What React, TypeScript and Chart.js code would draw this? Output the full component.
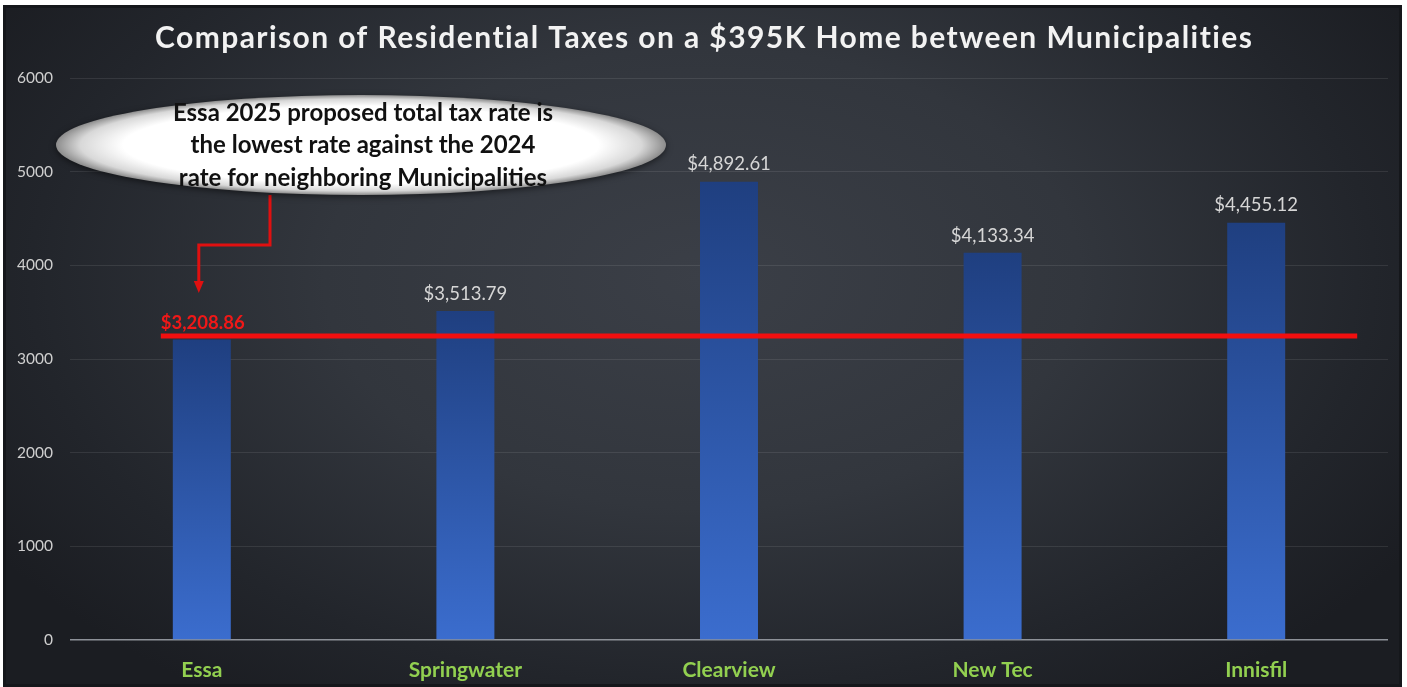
import React, { useEffect, useRef } from "react";
import { Chart, registerables } from "chart.js";

Chart.register(...registerables);

const TITLE = "Comparison of Residential Taxes on a $395K Home between Municipalities";
const CATEGORIES = ["Essa", "Springwater", "Clearview", "New Tec", "Innisfil"];
const TAX_VALUES = [3208.86, 3513.79, 4892.61, 4133.34, 4455.12];
const Y_MIN = 0;
const Y_MAX = 6000;
const Y_STEP = 1000;
// Level at which the red Essa benchmark line is drawn in the picture
const BENCHMARK_LINE_VALUE = 3245;
const BENCHMARK_LABEL = "$3,208.86";
const CALLOUT_LINES = [
  "Essa 2025 proposed total tax rate is",
  "the lowest rate against the 2024",
  "rate for neighboring Municipalities",
];

const FONT = "Lato, 'Open Sans', sans-serif";

const fmt = (v: number) =>
  "$" + v.toLocaleString("en-US", { minimumFractionDigits: 2, maximumFractionDigits: 2 });

const overlayPlugin = {
  id: "overlay",
  afterDatasetsDraw(chart: any) {
    const { ctx, scales } = chart;
    const x = scales.x;
    const y = scales.y;
    const meta = chart.getDatasetMeta(0);
    ctx.save();

    // value labels
    meta.data.forEach((bar: any, i: number) => {
      if (i === 0) return;
      ctx.font = `18.5px ${FONT}`;
      ctx.fillStyle = "#d6d6d6";
      ctx.textAlign = "center";
      ctx.textBaseline = "bottom";
      ctx.fillText(fmt(TAX_VALUES[i]), bar.x, bar.y - 8);
    });

    // red benchmark line
    const ly = y.getPixelForValue(BENCHMARK_LINE_VALUE);
    const x0 = x.getPixelForValue(0) - 41;
    const x1 = x.getPixelForValue(CATEGORIES.length - 1) + 101;
    ctx.strokeStyle = "#f20f0f";
    ctx.lineWidth = 5;
    ctx.beginPath();
    ctx.moveTo(x0, ly);
    ctx.lineTo(x1, ly);
    ctx.stroke();

    ctx.font = `bold 18.5px ${FONT}`;
    ctx.fillStyle = "#f01818";
    ctx.textAlign = "left";
    ctx.textBaseline = "alphabetic";
    ctx.fillText(BENCHMARK_LABEL, x0, ly - 7);

    // arrow from callout
    const ax = x.getPixelForValue(0) - 3;
    ctx.strokeStyle = "#e01010";
    ctx.fillStyle = "#e01010";
    ctx.lineWidth = 3;
    ctx.beginPath();
    ctx.moveTo(267, 190);
    ctx.lineTo(267, 240);
    ctx.lineTo(ax, 240);
    ctx.lineTo(ax, 278);
    ctx.stroke();
    ctx.beginPath();
    ctx.moveTo(ax - 5, 276);
    ctx.lineTo(ax + 5, 276);
    ctx.lineTo(ax, 288);
    ctx.closePath();
    ctx.fill();

    // callout ellipse
    const cx = 358, cy = 140, rx = 305, ry = 50;
    ctx.save();
    ctx.shadowColor = "rgba(0,0,0,0.5)";
    ctx.shadowBlur = 6;
    ctx.shadowOffsetY = 2;
    ctx.translate(cx, cy);
    ctx.scale(rx / ry, 1);
    const g = ctx.createRadialGradient(0, 0, 0, 0, 0, ry);
    g.addColorStop(0, "#ffffff");
    g.addColorStop(0.78, "#ffffff");
    g.addColorStop(0.92, "#d8d8d8");
    g.addColorStop(1, "#8c8c8c");
    ctx.fillStyle = g;
    ctx.beginPath();
    ctx.arc(0, 0, ry, 0, Math.PI * 2);
    ctx.fill();
    ctx.restore();

    ctx.font = `bold 24px ${FONT}`;
    ctx.fillStyle = "#111111";
    ctx.textAlign = "center";
    ctx.textBaseline = "middle";
    CALLOUT_LINES.forEach((t, i) => ctx.fillText(t, 360, 108 + i * 32.5));

    // title
    ctx.font = `bold 30px ${FONT}`;
    ctx.fillStyle = "#f2f2f2";
    ctx.textAlign = "left";
    ctx.textBaseline = "middle";
    (ctx as any).letterSpacing = "0px";
    const target = 1098;
    const w = ctx.measureText(TITLE).width;
    const ls = (target - w) / (TITLE.length - 1);
    (ctx as any).letterSpacing = `${ls}px`;
    ctx.fillText(TITLE, 701 - target / 2, 33);
    (ctx as any).letterSpacing = "0px";

    ctx.restore();
  },
};

export default function App() {
  const ref = useRef<HTMLCanvasElement | null>(null);

  useEffect(() => {
    document.body.style.margin = "0";
    if (!ref.current) return;
    const chart = new Chart(ref.current, {
      type: "bar",
      data: {
        labels: CATEGORIES,
        datasets: [
          {
            data: TAX_VALUES,
            backgroundColor: (c: any) => {
              const ch = c.chart;
              const s = ch.scales && ch.scales.y;
              if (!s || c.type !== "data") return "#2f5bb0";
              const top = s.getPixelForValue(c.raw);
              const bot = s.getPixelForValue(0);
              if (!isFinite(top) || !isFinite(bot) || top === bot) return "#2f5bb0";
              const g = ch.ctx.createLinearGradient(0, top, 0, bot);
              g.addColorStop(0, "#1f3f80");
              g.addColorStop(1, "#3b6dce");
              return g;
            },
            borderWidth: 0,
            categoryPercentage: 1,
            barPercentage: 0.22,
          },
        ],
      },
      options: {
        animation: false,
        responsive: false,
        maintainAspectRatio: false,
        layout: { padding: { left: 0, right: 14, top: 73, bottom: 0 } },
        plugins: {
          legend: { display: false },
          title: { display: false },
          tooltip: { enabled: false },
        },
        scales: {
          x: {
            grid: { display: false },
            border: { display: false },
            ticks: {
              color: "#92d050",
              font: { family: FONT, size: 21, weight: "bold" },
              padding: 10,
            },
            afterFit: (s: any) => {
              s.height = 47;
            },
          },
          y: {
            min: Y_MIN,
            max: Y_MAX,
            border: { display: false },
            grid: {
              drawTicks: false,
              color: (c: any) => (c.tick && c.tick.value === 0 ? "#8d9198" : "rgba(255,255,255,0.09)"),
              lineWidth: (c: any) => (c.tick && c.tick.value === 0 ? 1.5 : 1),
            },
            ticks: {
              stepSize: Y_STEP,
              color: "#cfcfcf",
              font: { family: FONT, size: 15.5 },
              padding: 17,
              callback: (v: any) => String(v),
            },
            afterFit: (s: any) => {
              s.width = 67;
            },
          },
        },
      },
      plugins: [overlayPlugin],
    } as any);
    return () => chart.destroy();
  }, []);

  return (
    <div style={{ position: "absolute", left: 0, top: 0, width: 1407, height: 687, background: "#ffffff", overflow: "hidden" }}>
      <div
        style={{
          position: "absolute",
          left: 3,
          top: 5,
          width: 1399,
          height: 682,
          background:
            "radial-gradient(ellipse 60% 75% at 50% 40%, #3b3f47 0%, #32363d 45%, #22252b 80%, #1b1d22 100%)",
          boxShadow: "inset 0 0 0 3px #15171b, inset -6px 0 0 -3px #3c3f44",
        }}
      >
        <canvas ref={ref} width={1399} height={682} style={{ display: "block" }} />
      </div>
    </div>
  );
}
